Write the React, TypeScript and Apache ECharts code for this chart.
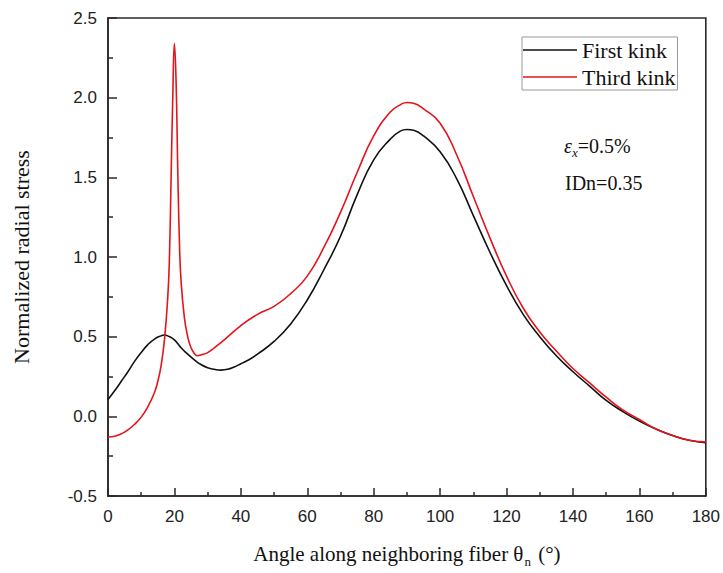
import React, { useEffect, useRef } from "react";
import * as echarts from "echarts";

const firstAngles = [0, 2, 4, 6, 8, 10, 12, 14, 16, 17, 18, 20, 22, 24, 26, 28, 30, 32, 34, 36, 38, 40, 42, 45, 50, 55, 60, 65, 70, 75, 80, 85, 88, 90, 92, 95, 100, 105, 110, 115, 120, 125, 130, 135, 140, 145, 150, 155, 160, 165, 170, 175, 180];
const firstKink = [0.105, 0.16, 0.22, 0.28, 0.345, 0.4, 0.45, 0.485, 0.505, 0.51, 0.505, 0.48, 0.43, 0.39, 0.355, 0.325, 0.305, 0.295, 0.29, 0.295, 0.31, 0.33, 0.35, 0.39, 0.47, 0.58, 0.73, 0.92, 1.13, 1.39, 1.61, 1.74, 1.79, 1.8, 1.795, 1.76, 1.66, 1.49, 1.26, 1.03, 0.82, 0.64, 0.5, 0.38, 0.28, 0.19, 0.1, 0.03, -0.03, -0.08, -0.12, -0.15, -0.165];

const thirdAngles = [0, 2, 4, 6, 8, 10, 12, 14, 15, 16, 17, 18, 18.5, 19, 19.5, 20, 20.5, 21, 21.5, 22, 23, 24, 25, 26, 27, 28, 30, 32, 35, 40, 45, 50, 55, 60, 65, 70, 75, 80, 85, 88, 90, 92, 95, 100, 105, 110, 115, 120, 125, 130, 135, 140, 145, 150, 155, 160, 165, 170, 175, 180];
const thirdKink = [-0.13, -0.125, -0.11, -0.085, -0.05, -0.005, 0.06, 0.15, 0.22, 0.32, 0.48, 0.75, 1.0, 1.5, 2.0, 2.34, 2.1, 1.55, 1.1, 0.85, 0.62, 0.5, 0.43, 0.395, 0.38, 0.385, 0.4, 0.43, 0.48, 0.57, 0.64, 0.69, 0.77, 0.88, 1.06, 1.28, 1.53, 1.76, 1.91, 1.955, 1.97, 1.965, 1.93, 1.84, 1.64, 1.38, 1.12, 0.88, 0.68, 0.53, 0.41, 0.3, 0.21, 0.12, 0.04, -0.02, -0.08, -0.12, -0.15, -0.16];

const seriesNames = ["First kink", "Third kink"];
const xTicks = { min: 0, max: 180, interval: 20 };
const yTicks = { min: -0.5, max: 2.5, interval: 0.5 };

export default function App() {
  const ref = useRef<HTMLDivElement>(null);
  useEffect(() => {
    if (!ref.current) return;
    const chart = echarts.init(ref.current, undefined, { renderer: "svg" });
    const serif = "Liberation Serif";
    const sans = "Liberation Sans";
    const axisColor = "#2a2a2a";
    chart.setOption({
      animation: false,
      backgroundColor: "#fff",
      grid: {
        left: 108,
        right: 16,
        top: 18,
        bottom: 73,
        show: true,
        borderColor: axisColor,
        borderWidth: 1.6,
        backgroundColor: "transparent",
      },
      legend: {
        data: seriesNames,
        orient: "vertical",
        left: 522,
        top: 37,
        icon: "rect",
        itemWidth: 54,
        itemHeight: 1.6,
        itemGap: 5,
        padding: [2, 2, 2, 1],
        borderColor: "#999",
        borderWidth: 1,
        backgroundColor: "#fff",
        textStyle: { fontFamily: serif, fontSize: 22, color: "#111" },
      },
      xAxis: {
        type: "value",
        min: xTicks.min,
        max: xTicks.max,
        interval: xTicks.interval,
        name: "{a|Angle along neighboring fiber θ}{s|n}{a| (°)}",
        nameLocation: "middle",
        nameGap: 43,
        nameTextStyle: {
          rich: {
            a: { fontFamily: serif, fontSize: 21, color: "#111" },
            s: { fontFamily: serif, fontSize: 13, color: "#111", padding: [16, 2, 0, 1] },
          },
        },
        axisLine: { show: true, onZero: false, lineStyle: { color: axisColor, width: 1.6 } },
        axisTick: { show: true, inside: true, length: 8, lineStyle: { color: axisColor, width: 1.5 } },
        minorTick: { show: true, splitNumber: 2, length: 4, lineStyle: { color: axisColor, width: 1.5 } },
        splitLine: { show: false },
        axisLabel: { fontFamily: sans, fontSize: 17, color: "#222", margin: 12 },
      },
      yAxis: {
        type: "value",
        min: yTicks.min,
        max: yTicks.max,
        interval: yTicks.interval,
        name: "Normalized radial stress",
        nameLocation: "middle",
        nameGap: 76,
        nameTextStyle: { fontFamily: serif, fontSize: 22, color: "#111" },
        axisLine: { show: true, onZero: false, lineStyle: { color: axisColor, width: 1.6 } },
        axisTick: { show: true, inside: true, length: 9, lineStyle: { color: axisColor, width: 1.5 } },
        minorTick: { show: true, splitNumber: 2, length: 5, lineStyle: { color: axisColor, width: 1.5 } },
        splitLine: { show: false },
        axisLabel: {
          fontFamily: sans,
          fontSize: 17,
          color: "#222",
          margin: 11,
          formatter: (v: number) => v.toFixed(1),
        },
      },
      series: [
        {
          name: seriesNames[0],
          type: "line",
          data: firstAngles.map((a, i) => [a, firstKink[i]]),
          showSymbol: false,
          symbol: "none",
          smooth: 0.5,
          lineStyle: { color: "#111", width: 1.6 },
          itemStyle: { color: "#111" },
        },
        {
          name: seriesNames[1],
          type: "line",
          data: thirdAngles.map((a, i) => [a, thirdKink[i]]),
          showSymbol: false,
          symbol: "none",
          smooth: 0.5,
          lineStyle: { color: "#e3141b", width: 1.6 },
          itemStyle: { color: "#e3141b" },
        },
      ],
      graphic: [
        {
          type: "text",
          left: 564,
          top: 136,
          style: {
            text: "{e|ε}{x|x}{n|=0.5%}",
            rich: {
              e: { fontFamily: serif, fontSize: 20, fontStyle: "italic", fill: "#111" },
              x: { fontFamily: serif, fontSize: 13, fontStyle: "italic", fill: "#111", padding: [12, 0, 0, 0] },
              n: { fontFamily: serif, fontSize: 20, fill: "#111" },
            },
          },
        },
        {
          type: "text",
          left: 565,
          top: 173,
          style: { text: "IDn=0.35", fontFamily: serif, fontSize: 20, fill: "#111" },
        },
      ],
    });
    return () => chart.dispose();
  }, []);
  return <div ref={ref} style={{ position: "fixed", left: 0, top: 0, width: 723, height: 573 }} />;
}
